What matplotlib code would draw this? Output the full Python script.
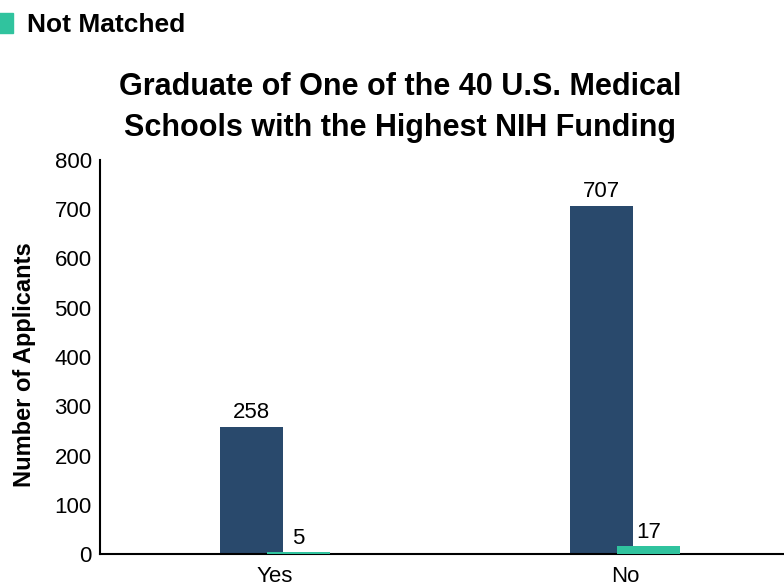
import matplotlib
matplotlib.use("Agg")

import matplotlib.pyplot as plt
from matplotlib.patches import Patch
import numpy as np

# data
categories = ["Yes", "No"]
series_names = ["Matched", "Not Matched"]
matched = [258, 707]
not_matched = [5, 17]
y_ticks = [0, 100, 200, 300, 400, 500, 600, 700, 800]
title_lines = [
    "Graduate of One of the 40 U.S. Medical",
    "Schools with the Highest NIH Funding"
]

navy = "#29496C"
green = "#30C39E"

plt.rcParams["font.family"] = ["Liberation Sans", "DejaVu Sans"]

W, H = 784, 582
fig = plt.figure(figsize=(W / 100, H / 100), dpi=100)

# axes run past the right edge, like the cropped original
ax = fig.add_axes([100 / W, 1 - 554 / H, 700 / W, 394 / H])

x = np.arange(len(categories))
width = 0.18
offset = 0.067

bars_matched = ax.bar(
    x - offset,
    matched,
    width,
    color=navy,
    zorder=2
)

bars_not = ax.bar(
    x + offset,
    not_matched,
    width,
    color=green,
    zorder=3
)

ax.bar_label(bars_matched, padding=3, fontsize=16)
ax.bar_label(bars_not, padding=2, fontsize=16)

ax.set_xlim(-0.5, 1.5)
ax.set_ylim(0, 800)
ax.set_yticks(y_ticks)
ax.set_xticks(x)
ax.set_xticklabels(categories)

ax.tick_params(axis="y", length=0, pad=6, labelsize=16)
ax.tick_params(axis="x", length=0, pad=9, labelsize=16)

ax.set_ylabel(
    "Number of Applicants",
    fontsize=17,
    fontweight="bold"
)
ax.yaxis.set_label_coords(-0.091, 0.48)

for side in ["top", "right"]:
    ax.spines[side].set_visible(False)

for side in ["left", "bottom"]:
    ax.spines[side].set_linewidth(1.5)
    ax.spines[side].set_color("black")

# title, one baseline per line
for line, base in zip(title_lines, [95, 136]):
    fig.text(
        400 / W,
        1 - base / H,
        line,
        ha="center",
        va="baseline",
        fontsize=22,
        fontweight="bold"
    )

handles = [
    Patch(color=navy, label=series_names[0]),
    Patch(color=green, label=series_names[1])
]

# only the second entry falls inside the canvas
fig.legend(
    handles=handles,
    loc="lower left",
    bbox_to_anchor=(-7 / W, 1 - 37 / H),
    frameon=False,
    borderpad=0,
    borderaxespad=0,
    handlelength=0.76,
    handleheight=0.76,
    handletextpad=0.53,
    labelspacing=3.0,
    prop={"weight": "bold", "size": 19}
)

fig.savefig("out.png", dpi=100)
